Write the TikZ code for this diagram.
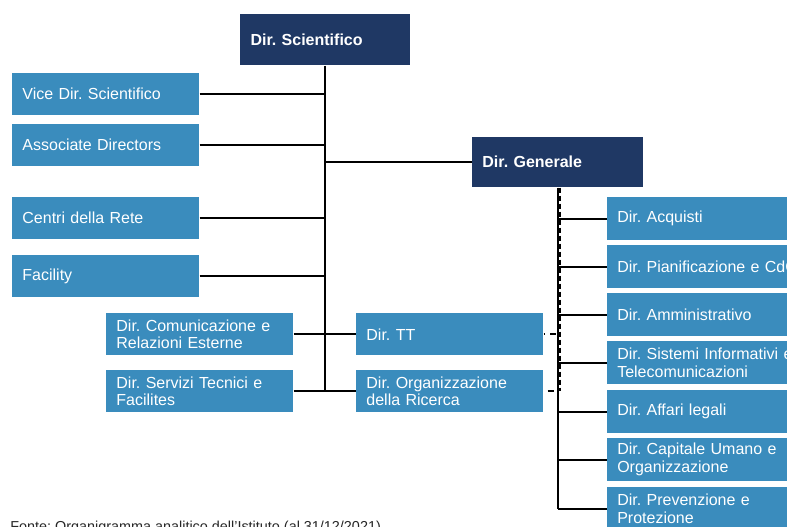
\documentclass[tikz,border=0pt]{standalone}
\usepackage{fontspec}
\setmainfont{Liberation Sans}
\frenchspacing
\definecolor{boxblue}{HTML}{3A8CBD}
\definecolor{navy}{HTML}{1F3864}
\begin{document}
\begin{tikzpicture}[x=0.75pt, y=-0.75pt,
    box/.style={fill=boxblue, text=white, anchor=north west, minimum width=140.25pt, minimum height=31.5pt,
        text width=125pt, align=left, inner xsep=7.5pt, inner ysep=0pt, font=\fontsize{12}{13.3}\selectfont},
    rbox/.style={box, text width=200pt, minimum height=32pt},
    boss/.style={box, fill=navy, font=\fontsize{12}{13.3}\selectfont\bfseries},
    link/.style={draw=black, line width=1.4pt}]
    \useasboundingbox (0,0) rectangle (787,526);

    % Direzione scientifica
    \node[boss, minimum width=127.5pt, minimum height=38.25pt, text width=112pt] (sci) at (240,14) {Dir. Scientifico};
    \node[box] (vice) at (12,73) {Vice Dir. Scientifico};
    \node[box] (assoc) at (12,124) {Associate Directors};
    \node[box] (centri) at (12,197) {Centri della Rete};
    \node[box] (facil) at (12,255) {Facility};
    \node[box] (comun) at (106,313) {Dir. Comunicazione e\\Relazioni Esterne};
    \node[box] (serv) at (106,370) {Dir. Servizi Tecnici e\\Facilites};
    \node[box] (tt) at (356,313) {Dir. TT};
    \node[box] (org) at (356,370) {Dir. Organizzazione\\della Ricerca};

    \draw[link] (sci.south) -- (sci.south |- serv.east);
    \foreach \n in {vice,assoc,centri,facil}
        \draw[link] (\n.east) -- (\n.east -| sci.south);
    \draw[link] (comun.east) -- (tt.west);
    \draw[link] (serv.east) -- (org.west);

    % Direzione generale
    \node[boss, minimum width=128.25pt, minimum height=37.5pt, text width=113pt] (gen) at (472,137) {Dir. Generale};
    \draw[link] (gen.west -| sci.south) -- (gen.west);

    \node[rbox] (acq) at (607,197) {Dir. Acquisti};
    \node[rbox] (pian) at (607,245) {Dir. Pianificazione e CdG};
    \node[rbox] (amm) at (607,293) {Dir. Amministrativo};
    \node[rbox] (sis) at (607,341) {Dir. Sistemi Informativi e\\Telecomunicazioni};
    \node[rbox] (aff) at (607,390) {Dir. Affari legali};
    \node[rbox] (cap) at (607,438) {Dir. Capitale Umano e\\Organizzazione};
    \node[rbox] (prev) at (607,487) {Dir. Prevenzione e\\Protezione};

    \draw[link] (gen.south) -- (gen.south |- prev.west);
    \foreach \n in {acq,pian,amm,sis,aff,cap,prev}
        \draw[link] (gen.south |- \n.west) -- (\n.west);

    % collegamenti tratteggiati
    \draw[link, dashed, dash pattern=on 4pt off 2pt] ([xshift=1.5pt]gen.south) -- ([xshift=1.5pt]gen.south |- org.east);
    \draw[link, dash pattern=on 1pt off 4pt on 4pt off 1pt] (tt.east) -- (tt.east -| gen.south);
    \draw[link, dash pattern=on 0pt off 3pt on 5pt off 1pt] (org.east) -- (org.east -| gen.south);

    \node[anchor=base west, inner sep=0pt, text=black!85, font=\fontsize{10.8}{13}\selectfont] (fonte) at (10,531)
        {Fonte: Organigramma analitico dell'Istituto (al 31/12/2021)};
\end{tikzpicture}
\end{document}
